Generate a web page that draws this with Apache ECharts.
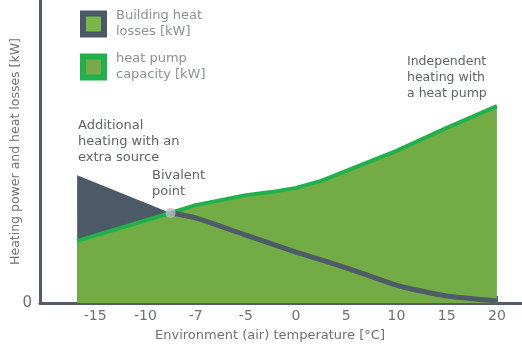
<!DOCTYPE html>
<html>
<head>
<meta charset="utf-8">
<script src="https://cdn.jsdelivr.net/npm/echarts@6/dist/echarts.min.js"></script>
<style>
html,body{margin:0;padding:0;background:#fff;}
#chart{width:522px;height:355px;}
</style>
</head>
<body>
<div id="chart"></div>
<script>
// Tick labels of the (evenly spaced) temperature axis
var tempLabels = ['-15', '-10', '-7', '-5', '0', '5', '10', '15', '20'];
// Positions are in tick-index units (0 = -15 ... 8 = 20)
var capacityX = [-0.36, 1.5, 2, 3, 3.5, 4, 4.5, 5, 6, 7, 8];
var capacityY = [2.05, 2.97, 3.23, 3.56, 3.66, 3.80, 4.03, 4.36, 5.02, 5.78, 6.50];
var lossX = [-0.36, 1.5, 2, 3, 4, 5, 6, 6.3, 7, 8];
var lossY = [4.22, 2.97, 2.81, 2.24, 1.68, 1.16, 0.59, 0.46, 0.23, 0.07];
var bivalentIndex = 1; // index in the arrays where the curves cross

var capData = capacityX.map(function (x, i) { return [x, capacityY[i]]; });
var lossData = lossX.map(function (x, i) { return [x, lossY[i]]; });
var lossBefore = lossData.slice(0, bivalentIndex + 1);
var lossAfter = lossData.slice(bivalentIndex);

var FONT = 'DejaVu Sans';
var chart = echarts.init(document.getElementById('chart'));
chart.setOption({
  animation: false,
  textStyle: { fontFamily: FONT },
  grid: { left: 40, right: 0, top: 0, bottom: 52, containLabel: false, outerBoundsMode: 'none' },
  legend: {
    orient: 'vertical',
    left: 75, top: 3,
    itemWidth: 21, itemHeight: 21, itemGap: 11,
    selectedMode: false,
    textStyle: { color: '#8c9196', fontSize: 13, lineHeight: 16, fontFamily: FONT, padding: [0, 0, 0, 7] },
    data: [
      { name: 'Building heat\nlosses [kW]', icon: 'rect', itemStyle: { color: '#7ab648', borderColor: '#4c5a67', borderWidth: 6 } },
      { name: 'heat pump\ncapacity [kW]', icon: 'rect', itemStyle: { color: '#7aa84a', borderColor: '#21b14b', borderWidth: 6 } }
    ]
  },
  xAxis: {
    type: 'value', min: -1.1, max: 8.5,
    name: 'Environment (air) temperature [°C]',
    nameLocation: 'middle', nameGap: 26,
    nameTextStyle: { color: '#6b7177', fontSize: 13, padding: [0, 22, 0, 0] },
    axisLine: { onZero: false, lineStyle: { color: '#525d68', width: 3 } },
    axisTick: { show: true, inside: true, length: 7, customValues: [0,1,2,3,4,5,6,7,8], lineStyle: { color: '#525d68', width: 2 } },
    axisLabel: {
      customValues: [0,1,2,3,4,5,6,7,8],
      color: '#6b7177', fontSize: 14, margin: 6,
      formatter: function (v) { return tempLabels[Math.round(v)]; }
    },
    splitLine: { show: false }
  },
  yAxis: {
    type: 'value', min: 0, max: 10,
    name: 'Heating power and heat losses [kW]',
    nameLocation: 'middle', nameGap: 18, nameMoveOverlap: false,
    nameTextStyle: { color: '#6b7177', fontSize: 12.5 },
    axisLine: { show: true, onZero: false, lineStyle: { color: '#525d68', width: 3 } },
    axisTick: { show: false },
    axisLabel: { customValues: [0], color: '#6b7177', fontSize: 15, margin: 8 },
    splitLine: { show: false }
  },
  graphic: [
    { type: 'text', left: 78, top: 118, style: { text: 'Additional\nheating with an\nextra source', fill: '#5e646a', font: '13px "DejaVu Sans"', lineHeight: 16 } },
    { type: 'text', left: 152, top: 168, style: { text: 'Bivalent\npoint', fill: '#5e646a', font: '13px "DejaVu Sans"', lineHeight: 16 } },
    { type: 'text', left: 407, top: 54, style: { text: 'Independent\nheating with\na heat pump', fill: '#5e646a', font: '12.5px "DejaVu Sans"', lineHeight: 16 } }
  ],
  series: [
    {
      name: 'Building heat\nlosses [kW]', type: 'line', data: lossBefore,
      showSymbol: false, lineStyle: { width: 0, color: '#4c5a67' }, itemStyle: { color: '#4c5a67' },
      areaStyle: { color: '#4c5a67', opacity: 1 }, z: 1
    },
    {
      name: 'heat pump\ncapacity [kW]', type: 'line', data: capData,
      showSymbol: false, lineStyle: { width: 4, color: '#21b14b' }, itemStyle: { color: '#21b14b' },
      areaStyle: { color: '#73ac45', opacity: 1 }, z: 2
    },
    {
      name: 'Building heat\nlosses [kW]', type: 'line', data: lossAfter, smooth: 0.2,
      showSymbol: false, lineStyle: { width: 5, color: '#4e5b68' }, itemStyle: { color: '#4e5b68' }, z: 3
    },
    {
      name: 'Bivalent point', type: 'scatter', data: [capData[bivalentIndex]],
      symbolSize: 10, itemStyle: { color: '#b9bdc0' }, z: 4
    }
  ]
});
</script>
</body>
</html>
